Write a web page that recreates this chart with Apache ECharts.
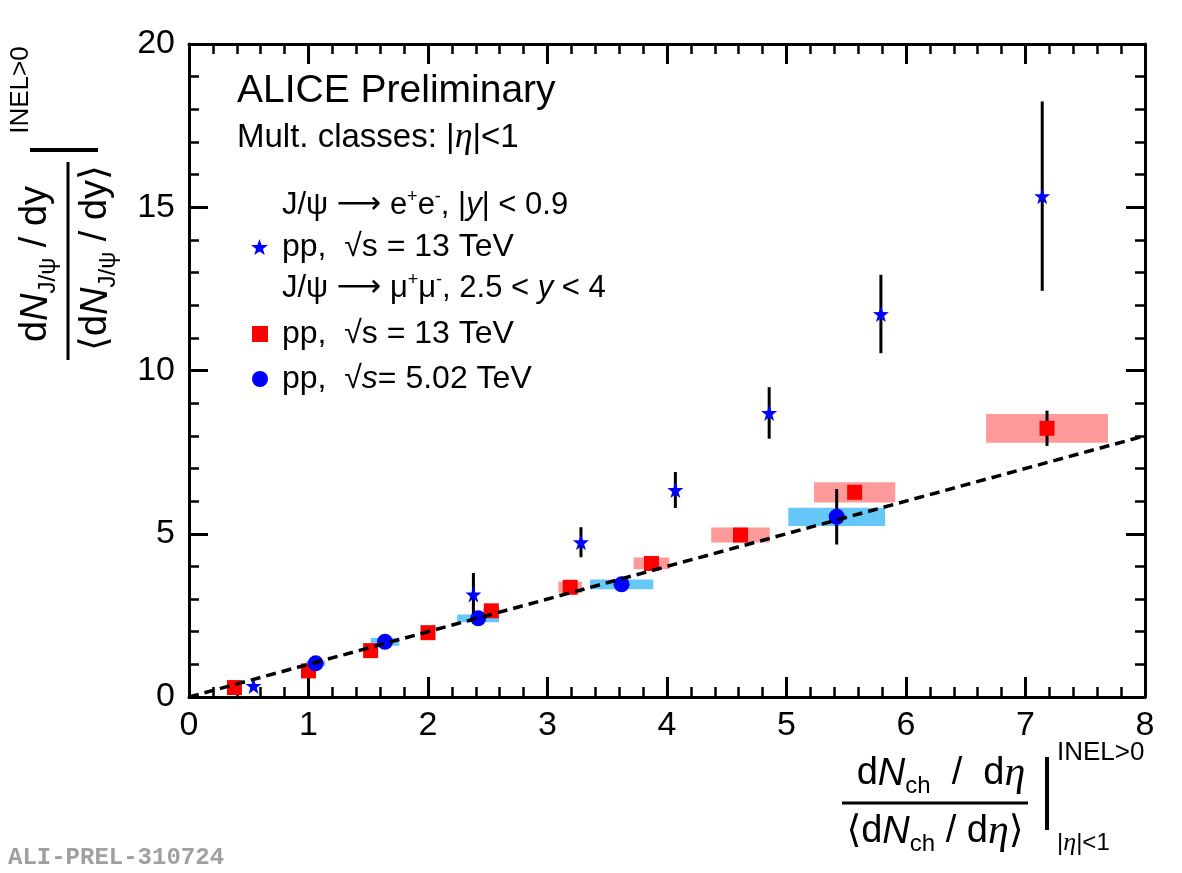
<!DOCTYPE html>
<html>
<head>
<meta charset="utf-8">
<script src="https://cdn.jsdelivr.net/npm/echarts@6/dist/echarts.min.js"></script>
<style>html,body{margin:0;background:#fff}#main{width:1182px;height:873px}</style>
</head>
<body>
<div id="main"></div>
<script>
// J/psi -> e+e-, |y|<0.9, pp 13 TeV (stars)
const starX = [0.54, 2.38, 3.28, 4.07, 4.855, 5.79, 7.14];
const starY = [0.34, 3.14, 4.74, 6.34, 8.70, 11.73, 15.34];
const starErr = [0.08, 0.66, 0.46, 0.55, 0.79, 1.2, 2.9];

// J/psi -> mu+mu-, 2.5<y<4, pp 13 TeV (squares)
const sqX = [0.38, 1.0, 1.52, 2.0, 2.53, 3.19, 3.87, 4.615, 5.57, 7.18];
const sqY = [0.29, 0.80, 1.42, 1.97, 2.64, 3.36, 4.09, 4.96, 6.27, 8.23];
const sqErr = [0.05, 0.05, 0.05, 0.05, 0.06, 0.08, 0.1, 0.15, 0.2, 0.54];
const sqSysX = [0.02, 0.03, 0.04, 0.06, 0.07, 0.10, 0.15, 0.245, 0.34, 0.51];
const sqSysY = [0.02, 0.04, 0.06, 0.08, 0.09, 0.17, 0.18, 0.23, 0.31, 0.44];

// J/psi -> mu+mu-, pp 5.02 TeV (circles)
const circX = [1.06, 1.64, 2.42, 3.62, 5.42];
const circY = [1.03, 1.69, 2.41, 3.45, 5.52];
const circErr = [0.08, 0.1, 0.15, 0.2, 0.85];
const circSysX = [0.08, 0.12, 0.175, 0.265, 0.405];
const circSysY = [0.08, 0.12, 0.12, 0.15, 0.28];

// y = x reference line
const lineX = [0, 8];
const lineY = [0, 8];

const xTicks = [0, 1, 2, 3, 4, 5, 6, 7, 8];
const yTicks = [0, 5, 10, 15, 20];

const SANS = 'Liberation Sans, Arial, DejaVu Sans';
const SERIF = 'Liberation Serif, DejaVu Serif';
const starPath = 'path://M0,-10 L2.35,-3.24 L9.51,-3.09 L3.8,1.24 L5.88,8.09 L0,4 L-5.88,8.09 L-3.8,1.24 L-9.51,-3.09 L-2.35,-3.24 Z';

const chart = echarts.init(document.getElementById('main'));

function boxRender(fill) {
  return function (params, api) {
    const x = api.value(0), y = api.value(1), dx = api.value(2), dy = api.value(3);
    const a = api.coord([x - dx, y + dy]);
    const b = api.coord([x + dx, y - dy]);
    return {
      type: 'rect',
      shape: { x: a[0], y: a[1], width: b[0] - a[0], height: b[1] - a[1] },
      style: { fill: fill }
    };
  };
}

function errRender(params, api) {
  const x = api.value(0), y = api.value(1), e = api.value(2);
  const p1 = api.coord([x, y - e]);
  const p2 = api.coord([x, y + e]);
  return {
    type: 'line',
    shape: { x1: p1[0], y1: p1[1], x2: p2[0], y2: p2[1] },
    style: { stroke: '#000', lineWidth: 3 }
  };
}

function xAxisCfg(pos, showLabel) {
  return {
    type: 'value', position: pos, min: 0, max: 8, interval: 1,
    axisLine: { onZero: false, lineStyle: { color: '#000', width: 3 } },
    axisTick: { inside: true, length: 20, lineStyle: { color: '#000', width: 3 } },
    minorTick: { show: true, splitNumber: 5, length: 10, lineStyle: { color: '#000', width: 2.5 } },
    splitLine: { show: false },
    axisLabel: {
      show: showLabel, fontSize: 34, color: '#000', fontFamily: SANS, margin: 12,
      formatter: v => xTicks.indexOf(v) >= 0 ? String(v) : ''
    }
  };
}

function yAxisCfg(pos, showLabel) {
  return {
    type: 'value', position: pos, min: 0, max: 20, interval: 5,
    axisLine: { onZero: false, lineStyle: { color: '#000', width: 3 } },
    axisTick: { inside: true, length: 19, lineStyle: { color: '#000', width: 3 } },
    minorTick: { show: true, splitNumber: 5, length: 10, lineStyle: { color: '#000', width: 2.5 } },
    splitLine: { show: false },
    axisLabel: {
      show: showLabel, fontSize: 34, color: '#000', fontFamily: SANS, margin: 14,
      formatter: v => yTicks.indexOf(v) >= 0 ? String(v) : ''
    }
  };
}

const legendLabels = {
  ee13: 'pp,  √s = 13 TeV',
  mm13: 'pp,  √s = 13 TeV',
  mm502: 'pp,  √{i|s}= 5.02 TeV'
};
const legendText = {
  fontSize: 32, fontFamily: SANS, color: '#000', lineHeight: 30, padding: [0, 0, 0, 9],
  rich: { i: { fontSize: 32, fontFamily: SANS, fontStyle: 'italic', color: '#000' } }
};

const supStyle = { fontSize: 18, fontFamily: SANS, fill: '#000', verticalAlign: 'top', lineHeight: 18 };
const subStyle = { fontSize: 24, fontFamily: SANS, fill: '#000', verticalAlign: 'bottom', lineHeight: 24 };

function txt(x, y, text, opts) {
  opts = opts || {};
  return {
    type: 'text', x: x, y: y, rotation: opts.rotation || 0, z: 100,
    style: {
      text: text,
      fontSize: opts.fontSize || 28,
      fontFamily: opts.fontFamily || SANS,
      fontWeight: opts.fontWeight || 'normal',
      fill: opts.fill || '#000',
      lineHeight: opts.lineHeight || 36,
      align: opts.align || 'left', textAlign: opts.align || 'left',
      verticalAlign: 'middle', textVerticalAlign: 'middle',
      rich: opts.rich || {}
    }
  };
}

const fracRich = {
  i: { fontSize: 38, fontFamily: SANS, fontStyle: 'italic', fill: '#000', verticalAlign: 'middle' },
  eta: { fontSize: 42, fontFamily: SERIF, fontStyle: 'italic', fill: '#000', verticalAlign: 'middle' },
  sub: subStyle
};
const headRich = {
  sup: supStyle,
  i: { fontSize: 31, fontFamily: SANS, fontStyle: 'italic', fill: '#000' },
  ar: { fontSize: 31, fontFamily: 'DejaVu Sans', fill: '#000' }
};

const option = {
  animation: false,
  backgroundColor: '#fff',
  grid: { left: 189, right: 37, top: 44, bottom: 176, outerBoundsMode: 'none', containLabel: false },
  xAxis: [xAxisCfg('bottom', true), xAxisCfg('top', false)],
  yAxis: [yAxisCfg('left', true), yAxisCfg('right', false)],
  legend: [
    {
      data: [{ name: 'ee13', icon: starPath }],
      left: 246, top: 226, itemWidth: 17, itemHeight: 17,
      formatter: n => legendLabels[n], textStyle: legendText
    },
    {
      data: [{ name: 'mm13', icon: 'rect' }, { name: 'mm502', icon: 'circle' }],
      orient: 'vertical', left: 247, top: 313, itemWidth: 16, itemHeight: 16, itemGap: 13,
      formatter: n => legendLabels[n], textStyle: legendText
    }
  ],
  series: [
    {
      type: 'custom', name: 'sysSq', z: 1, renderItem: boxRender('#ff9a9a'),
      encode: { x: 0, y: 1 },
      data: sqX.map((x, i) => [x, sqY[i], sqSysX[i], sqSysY[i]])
    },
    {
      type: 'custom', name: 'sysCirc', z: 1, renderItem: boxRender('#66c8f8'),
      encode: { x: 0, y: 1 },
      data: circX.map((x, i) => [x, circY[i], circSysX[i], circSysY[i]])
    },
    {
      type: 'custom', name: 'errStar', z: 2, renderItem: errRender, encode: { x: 0, y: 1 },
      data: starX.map((x, i) => [x, starY[i], starErr[i]])
    },
    {
      type: 'custom', name: 'errSq', z: 2, renderItem: errRender, encode: { x: 0, y: 1 },
      data: sqX.map((x, i) => [x, sqY[i], sqErr[i]])
    },
    {
      type: 'custom', name: 'errCirc', z: 2, renderItem: errRender, encode: { x: 0, y: 1 },
      data: circX.map((x, i) => [x, circY[i], circErr[i]])
    },
    {
      type: 'scatter', name: 'mm13', z: 3, symbol: 'rect', symbolSize: 15,
      itemStyle: { color: '#ff0000', opacity: 1 },
      data: sqX.map((x, i) => [x, sqY[i]])
    },
    {
      type: 'scatter', name: 'mm502', z: 3, symbol: 'circle', symbolSize: 16,
      itemStyle: { color: '#0000ff', opacity: 1 },
      data: circX.map((x, i) => [x, circY[i]])
    },
    {
      type: 'scatter', name: 'ee13', z: 3, symbol: starPath, symbolSize: 16,
      itemStyle: { color: '#0000ff', opacity: 1 },
      data: starX.map((x, i) => [x, starY[i]])
    },
    {
      type: 'line', name: 'ref', z: 4, symbol: 'none', silent: true,
      lineStyle: { color: '#000', width: 3.5, type: [10, 6] },
      data: lineX.map((x, i) => [x, lineY[i]])
    }
  ],
  graphic: [
    txt(237, 91, 'ALICE Preliminary', { fontSize: 39 }),
    txt(237, 138, 'Mult. classes: |{eta|η}|<1', {
      fontSize: 33,
      rich: { eta: { fontSize: 36, fontFamily: SERIF, fontStyle: 'italic', fill: '#000' } }
    }),
    txt(282, 205, 'J/ψ {ar|⟶} e{sup|+}e{sup|-}, |{i|y}| < 0.9', { fontSize: 31, lineHeight: 34, rich: headRich }),
    txt(282, 288, 'J/ψ {ar|⟶} μ{sup|+}μ{sup|-}, 2.5 < {i|y} < 4', { fontSize: 31, lineHeight: 34, rich: headRich }),

    // x axis title
    txt(941, 774, 'd{i|N}{sub|ch}  /  d{eta|η}', { fontSize: 38, align: 'center', lineHeight: 48, rich: fracRich }),
    { type: 'line', shape: { x1: 842, y1: 803, x2: 1028, y2: 803 }, style: { stroke: '#000', lineWidth: 3 } },
    txt(935, 832, '⟨d{i|N}{sub|ch} / d{eta|η}⟩', { fontSize: 38, align: 'center', lineHeight: 48, rich: fracRich }),
    { type: 'line', shape: { x1: 1047, y1: 757, x2: 1047, y2: 830 }, style: { stroke: '#000', lineWidth: 4 } },
    txt(1057, 753, 'INEL>0', { fontSize: 26 }),
    txt(1057, 843, '|{eta|η}|<1', {
      fontSize: 24, rich: { eta: { fontSize: 26, fontFamily: SERIF, fontStyle: 'italic', fill: '#000' } }
    }),

    // y axis title
    txt(21, 90, 'INEL>0', { fontSize: 26, align: 'center', rotation: Math.PI / 2 }),
    { type: 'line', shape: { x1: 30, y1: 150, x2: 98, y2: 150 }, style: { stroke: '#000', lineWidth: 4 } },
    txt(36, 264, 'd{i|N}{sub|J/ψ} / dy', { fontSize: 38, align: 'center', lineHeight: 48, rotation: Math.PI / 2, rich: fracRich }),
    { type: 'line', shape: { x1: 68, y1: 162, x2: 68, y2: 360 }, style: { stroke: '#000', lineWidth: 3 } },
    txt(96, 258, '⟨d{i|N}{sub|J/ψ} / dy⟩', { fontSize: 38, align: 'center', lineHeight: 48, rotation: Math.PI / 2, rich: fracRich }),

    // watermark
    txt(8, 858, 'ALI-PREL-310724', { fontSize: 24, fontFamily: 'Liberation Mono, DejaVu Sans Mono', fontWeight: 'bold', fill: '#a0a0a0' })
  ]
};

chart.setOption(option);
</script>
</body>
</html>
